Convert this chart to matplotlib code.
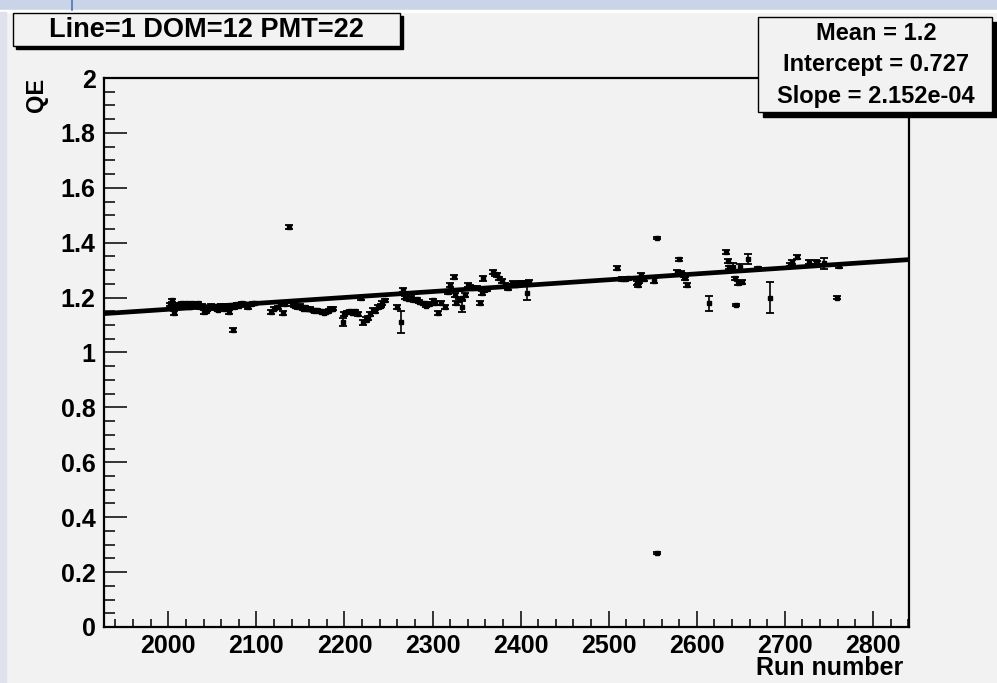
import numpy as np
import matplotlib.pyplot as plt
from matplotlib.patches import Rectangle
from matplotlib.lines import Line2D
from matplotlib.ticker import MultipleLocator, FuncFormatter

plt.rcParams['font.family'] = ['Liberation Sans', 'DejaVu Sans']
plt.rcParams['font.weight'] = 'bold'

# QE per run for Line=1 DOM=12 PMT=22
runs = [2002, 2004, 2006, 2008, 2010, 2012, 2015, 2017, 2019, 2021, 2023, 2025, 2027, 2030, 2032,
        2034, 2036, 2038, 2041, 2043, 2045, 2047, 2049, 2052, 2054, 2056, 2058, 2060, 2063, 2065,
        2067, 2069, 2071, 2073, 2075, 2078, 2080, 2082, 2084, 2087, 2089, 2091, 2094, 2096, 2098,
        2117, 2120, 2124, 2127, 2130, 2133, 2137,
        2141, 2143, 2145, 2147, 2149, 2151, 2153, 2155, 2157, 2159, 2161, 2163, 2165, 2167, 2169,
        2171, 2173, 2175, 2177, 2179, 2181, 2183, 2185, 2187,
        2198, 2200, 2203, 2206, 2209, 2212, 2215, 2219, 2221, 2224, 2227, 2229, 2232, 2235, 2238,
        2241, 2243, 2246,
        2260, 2264, 2266, 2269, 2272, 2276, 2279, 2282, 2285, 2288, 2291, 2293, 2296,
        2301, 2303, 2306, 2310, 2314, 2318, 2320, 2324, 2326, 2327, 2330, 2333, 2334, 2337, 2340,
        2343, 2346, 2350, 2354, 2356, 2357, 2359, 2362,
        2369, 2371, 2373, 2376, 2379, 2382, 2384, 2386, 2388, 2391, 2393, 2395, 2397, 2399, 2402,
        2405, 2407, 2410,
        2509, 2515, 2519, 2522, 2532, 2533, 2535, 2537, 2540, 2552, 2555, 2555,
        2578, 2580, 2582, 2583, 2585, 2587, 2589, 2614,
        2633, 2635, 2637, 2641, 2643, 2645, 2647, 2649, 2651, 2658, 2670, 2683,
        2706, 2708, 2714, 2728, 2735, 2737, 2745, 2759, 2762]

qe = [1.175, 1.19, 1.145, 1.17, 1.165, 1.175, 1.18, 1.17, 1.175, 1.18, 1.17, 1.165, 1.18, 1.175, 1.17,
      1.18, 1.165, 1.17, 1.148, 1.15, 1.16, 1.165, 1.17, 1.165, 1.16, 1.155, 1.165, 1.17, 1.16, 1.165,
      1.17, 1.148, 1.17, 1.082, 1.165, 1.175, 1.17, 1.175, 1.18, 1.175, 1.17, 1.165, 1.175, 1.18, 1.18,
      1.148, 1.16, 1.165, 1.175, 1.145, 1.175, 1.457,
      1.175, 1.17, 1.168, 1.165, 1.17, 1.165, 1.16, 1.165, 1.16, 1.158, 1.16, 1.155, 1.155, 1.15, 1.155,
      1.15, 1.148, 1.15, 1.145, 1.148, 1.15, 1.155, 1.16, 1.16,
      1.11, 1.14, 1.147, 1.15, 1.145, 1.15, 1.14, 1.198, 1.11, 1.12, 1.125, 1.14, 1.155, 1.15, 1.166,
      1.17, 1.18, 1.19,
      1.166, 1.11, 1.228, 1.2, 1.195, 1.2, 1.19, 1.195, 1.185, 1.18, 1.18, 1.17, 1.175,
      1.19, 1.18, 1.144, 1.18, 1.166, 1.22, 1.246, 1.275, 1.21, 1.18, 1.19, 1.198, 1.166, 1.21, 1.246,
      1.24, 1.235, 1.235, 1.18, 1.217, 1.27, 1.228, 1.23,
      1.293, 1.285, 1.282, 1.27, 1.26, 1.246, 1.24, 1.235, 1.245, 1.253, 1.25, 1.246, 1.25, 1.253, 1.255,
      1.253, 1.217, 1.257,
      1.307, 1.268, 1.268, 1.27, 1.253, 1.245, 1.26, 1.282, 1.268, 1.262, 1.417, 0.27,
      1.293, 1.34, 1.29, 1.285, 1.28, 1.27, 1.246, 1.18,
      1.366, 1.333, 1.31, 1.31, 1.27, 1.173, 1.253, 1.31, 1.257, 1.34, 1.307, 1.2,
      1.32, 1.33, 1.348, 1.33, 1.33, 1.328, 1.326, 1.2, 1.315]

qe_err = [0.006, 0.006, 0.008, 0.005, 0.005, 0.005, 0.005, 0.005, 0.005, 0.005, 0.005, 0.005, 0.005, 0.005, 0.005,
          0.005, 0.005, 0.005, 0.008, 0.005, 0.005, 0.005, 0.005, 0.005, 0.005, 0.005, 0.005, 0.005, 0.005, 0.005,
          0.005, 0.008, 0.005, 0.006, 0.005, 0.005, 0.005, 0.005, 0.005, 0.005, 0.005, 0.005, 0.005, 0.005, 0.005,
          0.006, 0.005, 0.005, 0.006, 0.008, 0.005, 0.006,
          0.005, 0.005, 0.005, 0.005, 0.005, 0.005, 0.005, 0.005, 0.005, 0.005, 0.005, 0.005, 0.005, 0.005, 0.005,
          0.005, 0.005, 0.005, 0.005, 0.005, 0.005, 0.005, 0.005, 0.005,
          0.015, 0.006, 0.006, 0.006, 0.006, 0.006, 0.006, 0.006, 0.008, 0.008, 0.008, 0.006, 0.006, 0.006, 0.006,
          0.006, 0.006, 0.006,
          0.006, 0.04, 0.006, 0.006, 0.005, 0.005, 0.005, 0.005, 0.005, 0.005, 0.005, 0.005, 0.005,
          0.006, 0.006, 0.008, 0.006, 0.006, 0.006, 0.006, 0.008, 0.006, 0.006, 0.006, 0.006, 0.02, 0.006, 0.006,
          0.006, 0.006, 0.006, 0.006, 0.006, 0.008, 0.006, 0.006,
          0.006, 0.006, 0.006, 0.006, 0.006, 0.006, 0.006, 0.006, 0.006, 0.006, 0.006, 0.006, 0.006, 0.006, 0.006,
          0.006, 0.027, 0.006,
          0.007, 0.006, 0.006, 0.006, 0.006, 0.006, 0.006, 0.008, 0.006, 0.008, 0.005, 0.005,
          0.006, 0.005, 0.006, 0.006, 0.006, 0.006, 0.006, 0.027,
          0.008, 0.006, 0.006, 0.015, 0.006, 0.005, 0.008, 0.012, 0.006, 0.018, 0.006, 0.057,
          0.006, 0.006, 0.006, 0.006, 0.006, 0.006, 0.02, 0.005, 0.006]

# linear fit parameters shown in the stats box
mean_qe = 1.2
intercept = 0.727
slope = 2.152e-04

W, H = 997, 683
bg = '#f2f2f2'

fig = plt.figure(figsize=(W / 100, H / 100), dpi=100, facecolor=bg)

def px_box(x0, y0, x1, y1):
    # pixel box (top-left origin) -> figure fraction rectangle
    return (x0 / W, 1 - y1 / H), (x1 - x0) / W, (y1 - y0) / H

# window chrome along top and left edges
xy, w, h = px_box(0, 0, W, 10)
fig.add_artist(Rectangle(xy, w, h, transform=fig.transFigure, color='#c9d4e8', zorder=0))
xy, w, h = px_box(0, 10, W, 12)
fig.add_artist(Rectangle(xy, w, h, transform=fig.transFigure, color='white', zorder=0))
xy, w, h = px_box(0, 12, 6, H)
fig.add_artist(Rectangle(xy, w, h, transform=fig.transFigure, color='#dde2ec', zorder=0))
fig.add_artist(Line2D([72 / W, 72 / W], [1, 1 - 10 / H], transform=fig.transFigure, color='#4a73bf', lw=1.2))

ax = fig.add_axes([104 / W, 1 - 627 / H, (909 - 104) / W, (627 - 78) / H])
ax.set_facecolor(bg)

ax.errorbar(runs, qe, yerr=qe_err, fmt='s', ms=3.4, color='k', ecolor='k',
            elinewidth=1.2, capsize=3.2, capthick=1.3, zorder=3)

xlo, xhi = 1927, 2841
xfit = np.array([xlo, xhi])
ax.plot(xfit, intercept + slope * xfit, color='k', lw=3.4, zorder=4)

ax.set_xlim(xlo, xhi)
ax.set_ylim(0, 2)
ax.xaxis.set_major_locator(MultipleLocator(100))
ax.xaxis.set_minor_locator(MultipleLocator(20))
ax.yaxis.set_major_locator(MultipleLocator(0.2))
ax.yaxis.set_minor_locator(MultipleLocator(0.05))
ax.yaxis.set_major_formatter(FuncFormatter(lambda v, p: '%g' % round(v, 2)))

ax.tick_params(axis='x', which='major', direction='in', length=11.5, width=1.1,
               labelsize=18, pad=5, top=False)
ax.tick_params(axis='x', which='minor', direction='in', length=5.8, width=1.1, top=False)
ax.tick_params(axis='y', which='major', direction='in', length=16.5, width=1.1,
               labelsize=18, pad=6, right=False)
ax.tick_params(axis='y', which='minor', direction='in', length=8, width=1.1, right=False)
for s in ax.spines.values():
    s.set_linewidth(1.6)

fig.text(903 / W, 1 - 680 / H, 'Run number', ha='right', va='bottom', fontsize=18, fontweight='bold')
fig.text(36 / W, 1 - 78 / H, 'QE', ha='center', va='top', rotation=90, fontsize=17, fontweight='bold')

# title box with drop shadow
xy, w, h = px_box(16, 16, 403, 49)
fig.add_artist(Rectangle(xy, w, h, transform=fig.transFigure, color='k', zorder=5))
xy, w, h = px_box(13, 13, 400, 46)
fig.add_artist(Rectangle(xy, w, h, transform=fig.transFigure, facecolor=bg, edgecolor='k', lw=1, zorder=6))
fig.text(206 / W, 1 - 30 / H, 'Line=1 DOM=12 PMT=22', ha='center', va='center',
         fontsize=19.5, fontweight='bold', zorder=7)

# stats box with drop shadow
xy, w, h = px_box(763, 22, 997, 117)
fig.add_artist(Rectangle(xy, w, h, transform=fig.transFigure, color='k', zorder=5))
xy, w, h = px_box(758, 17, 992, 112)
fig.add_artist(Rectangle(xy, w, h, transform=fig.transFigure, facecolor=bg, edgecolor='k', lw=1, zorder=6))
stats = ['Mean = %.1f' % mean_qe, 'Intercept = %.3f' % intercept, 'Slope = %.3e' % slope]
for i, line in enumerate(stats):
    fig.text(876 / W, 1 - (34 + 31 * i) / H, line, ha='center', va='center',
             fontsize=17, fontweight='bold', zorder=7)

fig.savefig('out.png', dpi=100, facecolor=bg)
